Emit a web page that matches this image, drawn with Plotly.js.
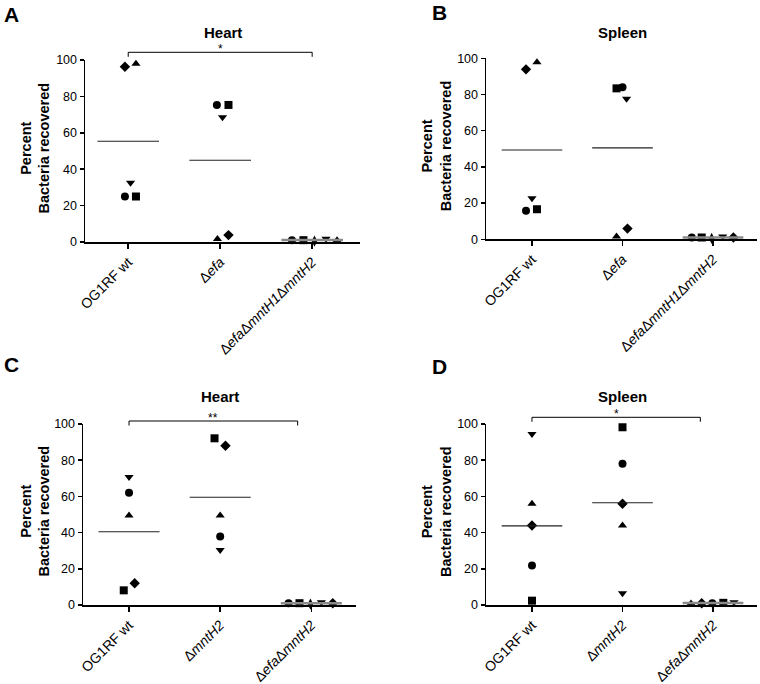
<!DOCTYPE html>
<html>
<head>
<meta charset="utf-8">
<script src="https://cdn.plot.ly/plotly-3.0.1.min.js"></script>
<style>
  body { margin: 0; background: #fff; }
  #chart { width: 760px; height: 684px; }
</style>
</head>
<body>
<div id="chart"></div>
<script>
// Tick labels
var catsEfa = ['OG1RF wt', 'Δ<i>efa</i>', 'Δ<i>efa</i>Δ<i>mntH1</i>Δ<i>mntH2</i>'];
var catsMnt = ['OG1RF wt', 'Δ<i>mntH2</i>', 'Δ<i>efa</i>Δ<i>mntH2</i>'];
var yTicks = [0, 20, 40, 60, 80, 100];

// Percent bacteria recovered, 5 animals per group
// A: heart, efa mutants
var heartEfaWt = [96.3, 98.0, 32.5, 25.0, 25.0];
var heartEfaDel = [75.3, 75.3, 68.6, 1.6, 3.8];
var heartEfaTriple = [1.0, 1.0, 0.5, 1.8, 1.0];
// B: spleen, efa mutants
var spleenEfaWt = [93.9, 97.8, 22.7, 15.8, 16.6];
var spleenEfaDel = [83.4, 84.0, 77.7, 1.5, 5.9];
var spleenEfaTriple = [1.0, 1.0, 0.5, 1.5, 1.0];
// C: heart, mntH2 mutants
var heartMntWt = [70.7, 62.0, 49.4, 8.1, 12.0];
var heartMntDel = [92.1, 88.0, 49.4, 37.8, 30.4];
var heartMntDouble = [1.0, 1.0, 0.5, 1.5, 1.0];
// D: spleen, mntH2 mutants
var spleenMntWt = [94.5, 55.9, 43.9, 21.8, 2.4];
var spleenMntDel = [98.2, 78.0, 55.9, 43.9, 6.5];
var spleenMntDouble = [0.8, 1.0, 1.0, 1.2, 1.5];

// marker symbols (one per animal) and horizontal scatter of the points
var symA = [['diamond', 'triangle-up', 'triangle-down', 'circle', 'square'],
            ['circle', 'square', 'triangle-down', 'triangle-up', 'diamond'],
            ['circle', 'square', 'diamond-tall', 'triangle-down', 'triangle-up']];
var jitA = [[-0.036, 0.084, 0.025, -0.036, 0.084],
            [-0.036, 0.09, 0.025, -0.03, 0.09],
            [-0.22, -0.095, 0.025, 0.15, 0.27]];
var symB = [['diamond', 'triangle-up', 'triangle-down', 'circle', 'square'],
            ['square', 'circle', 'triangle-down', 'triangle-up', 'diamond'],
            ['circle', 'square', 'diamond-tall', 'triangle-down', 'diamond']];
var jitB = [[-0.066, 0.055, 0, -0.066, 0.055],
            [-0.066, 0, 0.045, -0.066, 0.055],
            [-0.235, -0.125, -0.015, 0.107, 0.225]];
var symC = [['triangle-down', 'circle', 'triangle-up', 'square', 'diamond'],
            ['square', 'diamond', 'triangle-up', 'circle', 'triangle-down'],
            ['circle', 'square', 'diamond-tall', 'triangle-down', 'diamond']];
var jitC = [[0, 0, 0, -0.058, 0.062],
            [-0.062, 0.058, 0, 0, 0],
            [-0.25, -0.13, -0.01, 0.11, 0.235]];
var symD = [['triangle-down', 'triangle-up', 'diamond', 'circle', 'square'],
            ['square', 'circle', 'diamond', 'triangle-up', 'triangle-down'],
            ['triangle-up', 'diamond', 'circle', 'square', 'triangle-down']];
var jitD = [[0, 0, 0, 0, 0],
            [0, 0, 0, 0, 0],
            [-0.243, -0.125, -0.008, 0.114, 0.232]];

var W = 760, H = 684;
function px(x) { return x / W; }
function py(y) { return 1 - y / H; }

var panels = [
  {letter: 'A', title: 'Heart', cats: catsEfa, groups: [heartEfaWt, heartEfaDel, heartEfaTriple],
   sym: symA, jit: jitA, xdom: [85, 360], ydom: [60, 242], xrange: [-0.47, 2.52],
   letterPos: [11, 14], titlePos: [223, 32], ytitleX: 35.5, bracket: {x1: 2, y: 52.3, star: '*'}},
  {letter: 'B', title: 'Spleen', cats: catsEfa, groups: [spleenEfaWt, spleenEfaDel, spleenEfaTriple],
   sym: symB, jit: jitB, xdom: [486, 757], ydom: [58.3, 239.3], xrange: [-0.508, 2.486],
   letterPos: [439, 13], titlePos: [622, 32], ytitleX: 436.5, bracket: null},
  {letter: 'C', title: 'Heart', cats: catsMnt, groups: [heartMntWt, heartMntDel, heartMntDouble],
   sym: symC, jit: jitC, xdom: [83, 356], ydom: [424, 605], xrange: [-0.505, 2.49],
   letterPos: [11, 365], titlePos: [220, 397], ytitleX: 35, bracket: {x1: 1.85, y: 421, star: '**'}},
  {letter: 'D', title: 'Spleen', cats: catsMnt, groups: [spleenMntWt, spleenMntDel, spleenMntDouble],
   sym: symD, jit: jitD, xdom: [486, 757], ydom: [424, 605], xrange: [-0.508, 2.486],
   letterPos: [439, 366], titlePos: [622, 397], ytitleX: 436.5, bracket: {x1: 1.86, y: 417.3, star: '*'}}
];

var font = 'Arial, "Liberation Sans", sans-serif';
var traces = [];
var layout = {
  width: W, height: H,
  margin: {l: 0, r: 0, t: 0, b: 0},
  paper_bgcolor: 'white', plot_bgcolor: 'white',
  showlegend: false,
  font: {family: font, size: 12, color: '#000'},
  annotations: [], shapes: []
};

panels.forEach(function(p, k) {
  var sfx = k === 0 ? '' : String(k + 1);
  var xa = 'x' + sfx, ya = 'y' + sfx;

  p.groups.forEach(function(vals, g) {
    var xs = vals.map(function(v, i) { return g + p.jit[g][i]; });
    traces.push({
      x: xs, y: vals, xaxis: xa, yaxis: ya,
      type: 'scatter', mode: 'markers', cliponaxis: false,
      marker: {color: '#000', size: 8, symbol: p.sym[g]},
      hoverinfo: 'y'
    });
    // group mean
    var mean = vals.reduce(function(a, b) { return a + b; }, 0) / vals.length;
    var last = g === 2;
    traces.push({
      x: [g - 0.335, g + 0.335], y: [mean, mean], xaxis: xa, yaxis: ya,
      type: 'scatter', mode: 'lines', cliponaxis: false,
      line: {color: last ? '#8a8a8a' : '#222', width: last ? 2.5 : 1.1},
      hoverinfo: 'skip'
    });
  });

  layout['xaxis' + sfx] = {
    domain: [px(p.xdom[0]), px(p.xdom[1])], anchor: ya,
    range: p.xrange, showgrid: false, zeroline: false,
    showline: true, linecolor: '#000', linewidth: 1.5,
    ticks: 'outside', ticklen: 5, tickwidth: 1.5, tickcolor: '#000',
    tickvals: [0, 1, 2], ticktext: p.cats, tickangle: -45,
    tickfont: {family: font, size: 14, color: '#000'}
  };
  layout['yaxis' + sfx] = {
    domain: [py(p.ydom[1]), py(p.ydom[0])], anchor: xa,
    range: [0, 100], showgrid: false, zeroline: false,
    showline: true, linecolor: '#000', linewidth: 1.5,
    ticks: 'outside', ticklen: 4, tickwidth: 1.5, tickcolor: '#000',
    tickvals: yTicks, ticktext: yTicks.map(String),
    tickfont: {family: font, size: 12.5, color: '#000'}
  };

  layout.annotations.push({
    text: '<b>' + p.letter + '</b>', xref: 'paper', yref: 'paper',
    x: px(p.letterPos[0]), y: py(p.letterPos[1]), xanchor: 'center', yanchor: 'middle',
    showarrow: false, font: {family: font, size: 21, color: '#000'}
  });
  layout.annotations.push({
    text: '<b>' + p.title + '</b>', xref: 'paper', yref: 'paper',
    x: px(p.titlePos[0]), y: py(p.titlePos[1]), xanchor: 'center', yanchor: 'middle',
    showarrow: false, font: {family: font, size: 15, color: '#000'}
  });
  layout.annotations.push({
    text: '<b>Percent<br>Bacteria recovered</b>', xref: 'paper', yref: 'paper',
    x: px(p.ytitleX), y: py((p.ydom[0] + p.ydom[1]) / 2 - 3), xanchor: 'center', yanchor: 'middle',
    textangle: -90, showarrow: false, font: {family: font, size: 14.5, color: '#000'}
  });

  if (p.bracket) {
    var b = p.bracket;
    layout.shapes.push({
      type: 'path', xref: xa, yref: 'paper',
      path: 'M0,' + py(b.y + 4.5) + ' L0,' + py(b.y) + ' L' + b.x1 + ',' + py(b.y) + ' L' + b.x1 + ',' + py(b.y + 4.5),
      line: {color: '#000', width: 1}
    });
    layout.annotations.push({
      text: b.star, xref: xa, yref: 'paper',
      x: b.x1 / 2, y: py(b.y - 3.5), xanchor: 'center', yanchor: 'middle',
      showarrow: false, font: {family: font, size: 12, color: '#000'}
    });
  }
});

Plotly.newPlot('chart', traces, layout, {displayModeBar: false, staticPlot: true});
</script>
</body>
</html>
